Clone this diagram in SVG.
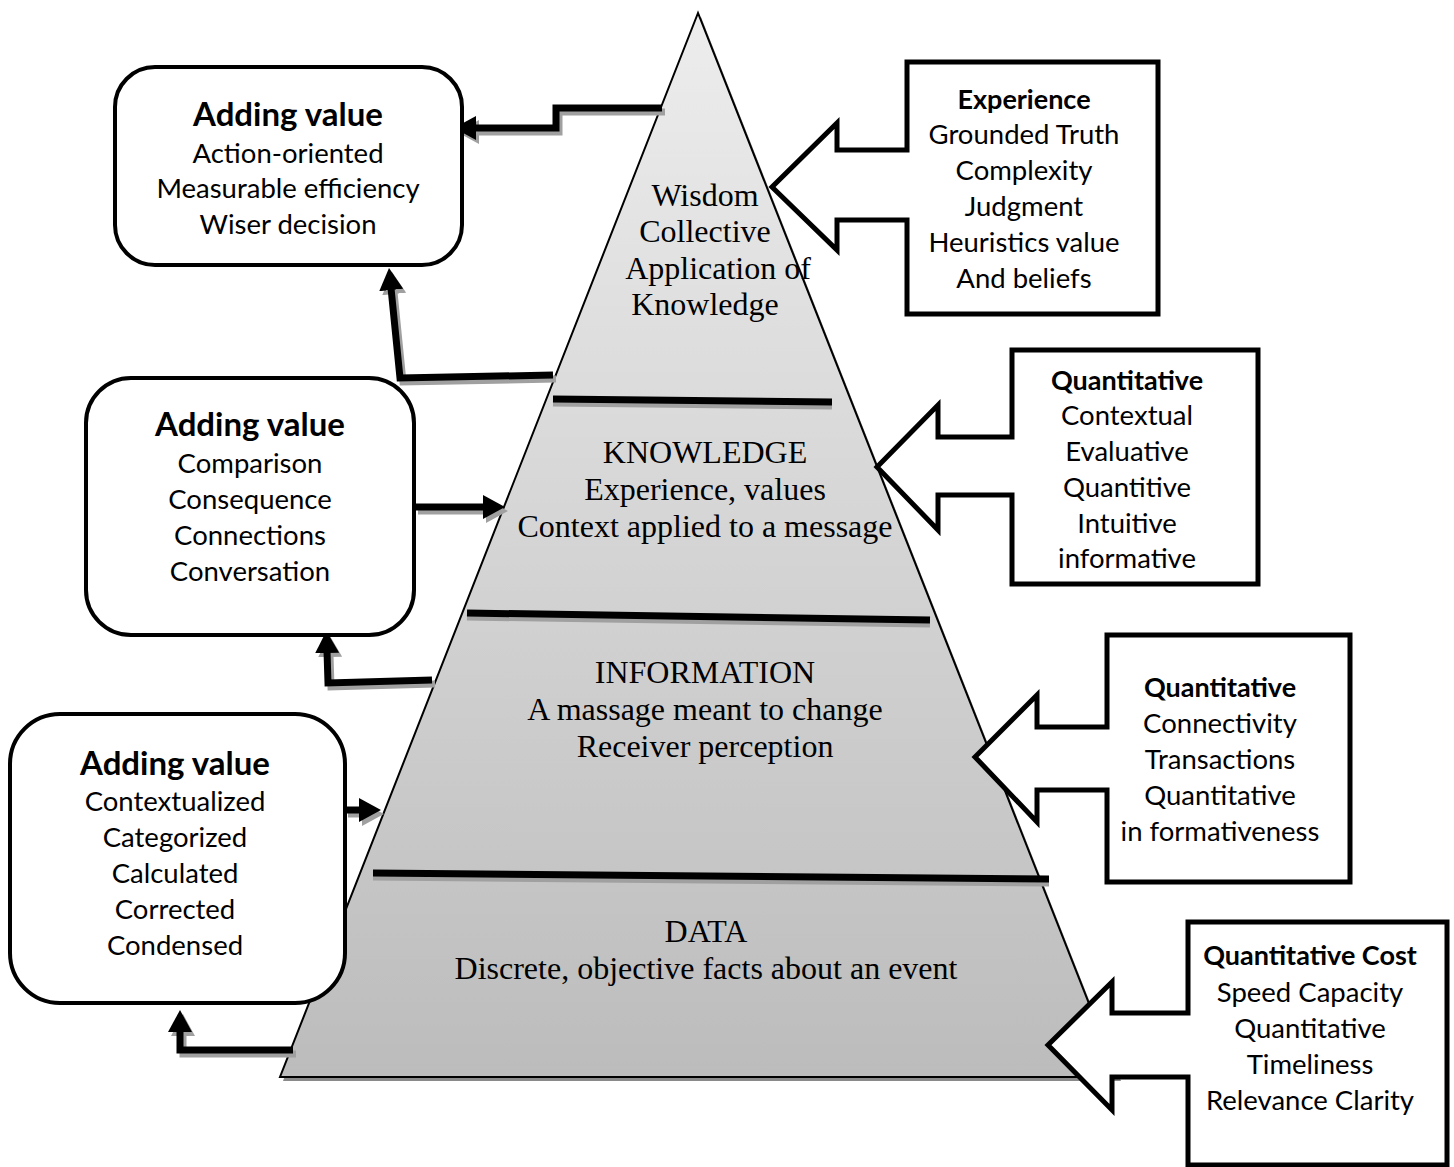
<svg xmlns="http://www.w3.org/2000/svg" width="1454" height="1167" viewBox="0 0 1454 1167">
<defs>
<linearGradient id="pg" x1="0" y1="13" x2="0" y2="1077" gradientUnits="userSpaceOnUse">
<stop offset="0" stop-color="#ededed"/>
<stop offset="1" stop-color="#bcbcbc"/>
</linearGradient>
<marker id="ah" markerUnits="userSpaceOnUse" viewBox="0 0 22 24" markerWidth="22" markerHeight="24" refX="2" refY="12" orient="auto">
<path d="M0,0 L22,12 L0,24 Z" fill="#000"/>
</marker>
<marker id="ahs" markerUnits="userSpaceOnUse" viewBox="0 0 22 24" markerWidth="22" markerHeight="24" refX="2" refY="12" orient="auto">
<path d="M0,0 L22,12 L0,24 Z" fill="#a0a0a0"/>
</marker>
<style>
.ln{fill:none;stroke:#000;stroke-width:7;stroke-linejoin:miter}
.sh{fill:none;stroke:#a0a0a0;stroke-width:7;stroke-linejoin:miter}
.box{fill:#fff;stroke:#000;stroke-width:4}
.call{fill:#fff;stroke:#000;stroke-width:5;stroke-linejoin:miter}
.serif{font-family:"Liberation Serif","Times New Roman",serif;font-size:32px;fill:#000;text-anchor:middle}
.sans{font-family:Lato,"Liberation Sans",sans-serif;font-size:27.5px;fill:#000;text-anchor:middle}
.hd{font-family:Lato,"Liberation Sans",sans-serif;font-size:33px;font-weight:bold;fill:#000;text-anchor:middle}
.rhd{font-family:Lato,"Liberation Sans",sans-serif;font-size:27px;font-weight:bold;fill:#000;text-anchor:middle}
</style>
</defs>
<rect width="1454" height="1167" fill="#fff"/>

<g id="pyramid">
<polygon points="701,17 283,1081 1121,1081" fill="#8a8a8a"/>
<polygon points="698,13 280,1077 1118,1077" fill="url(#pg)" stroke="#000" stroke-width="2"/>
<g id="dividers">
<path class="sh" d="M553,403 L832,406"/>
<path class="ln" d="M553,399 L832,402"/>
<path class="sh" d="M467,617 L930,624"/>
<path class="ln" d="M467,613 L930,620"/>
<path class="sh" d="M373,877 L1049,883"/>
<path class="ln" d="M373,873 L1049,879"/>
</g>
<g id="wisdom">
<text class="serif" x="705" y="206">Wisdom</text>
<text class="serif" x="705" y="242">Collective</text>
<text class="serif" x="718" y="279">Application of</text>
<text class="serif" x="705" y="315">Knowledge</text>
</g>
<g id="knowledge">
<text class="serif" x="705" y="463">KNOWLEDGE</text>
<text class="serif" x="705" y="500">Experience, values</text>
<text class="serif" x="705" y="537">Context applied to a message</text>
</g>
<g id="information">
<text class="serif" x="705" y="683">INFORMATION</text>
<text class="serif" x="705" y="720">A massage meant to change</text>
<text class="serif" x="705" y="757">Receiver perception</text>
</g>
<g id="data">
<text class="serif" x="706" y="942">DATA</text>
<text class="serif" x="706" y="979">Discrete, objective facts about an event</text>
</g>
</g>

<g id="connectors">
<path class="sh" d="M665,112 H559 V132 H477" marker-end="url(#ahs)"/>
<path class="ln" d="M662,108 H556 V128 H474" marker-end="url(#ah)"/>
<path class="sh" d="M556,379 L403,382 L394,292" marker-end="url(#ahs)"/>
<path class="ln" d="M553,375 L400,378 L391,288" marker-end="url(#ah)"/>
<path class="sh" d="M418,511 H488" marker-end="url(#ahs)"/>
<path class="ln" d="M415,507 H485" marker-end="url(#ah)"/>
<path class="sh" d="M435,684 L331,687 L330,655" marker-end="url(#ahs)"/>
<path class="ln" d="M432,680 L328,683 L327,651" marker-end="url(#ah)"/>
<path class="sh" d="M348,814 H364" marker-end="url(#ahs)"/>
<path class="ln" d="M345,810 H361" marker-end="url(#ah)"/>
<path class="sh" d="M296,1054 H183 V1034" marker-end="url(#ahs)"/>
<path class="ln" d="M293,1050 H180 V1030" marker-end="url(#ah)"/>
</g>

<g id="value-top">
<rect class="box" x="115" y="67" width="347" height="198" rx="40"/>
<text class="hd" x="288" y="126">Adding value</text>
<text class="sans" x="288" y="163">Action-oriented</text>
<text class="sans" x="288" y="198">Measurable efficiency</text>
<text class="sans" x="288" y="234">Wiser decision</text>
</g>
<g id="value-mid">
<rect class="box" x="86" y="378" width="328" height="257" rx="45"/>
<text class="hd" x="250" y="436">Adding value</text>
<text class="sans" x="250" y="473">Comparison</text>
<text class="sans" x="250" y="509">Consequence</text>
<text class="sans" x="250" y="545">Connections</text>
<text class="sans" x="250" y="581">Conversation</text>
</g>
<g id="value-bottom">
<rect class="box" x="10" y="714" width="335" height="289" rx="50"/>
<text class="hd" x="175" y="775">Adding value</text>
<text class="sans" x="175" y="811">Contextualized</text>
<text class="sans" x="175" y="847">Categorized</text>
<text class="sans" x="175" y="883">Calculated</text>
<text class="sans" x="175" y="919">Corrected</text>
<text class="sans" x="175" y="955">Condensed</text>
</g>

<g id="callout-experience">
<path class="call" d="M907,62 H1158 V314 H907 V220 H837 V250 L772,187 L837,123 V150 H907 Z"/>
<text class="rhd" x="1024" y="109">Experience</text>
<text class="sans" x="1024" y="144">Grounded Truth</text>
<text class="sans" x="1024" y="180">Complexity</text>
<text class="sans" x="1024" y="216">Judgment</text>
<text class="sans" x="1024" y="252">Heuristics value</text>
<text class="sans" x="1024" y="288">And beliefs</text>
</g>
<g id="callout-knowledge">
<path class="call" d="M1012,350 H1258 V584 H1012 V495 H938 V530 L877,467 L938,405 V437 H1012 Z"/>
<text class="rhd" x="1127" y="390">Quantitative</text>
<text class="sans" x="1127" y="425">Contextual</text>
<text class="sans" x="1127" y="461">Evaluative</text>
<text class="sans" x="1127" y="497">Quantitive</text>
<text class="sans" x="1127" y="533">Intuitive</text>
<text class="sans" x="1127" y="568">informative</text>
</g>
<g id="callout-information">
<path class="call" d="M1107,635 H1350 V882 H1107 V790 H1037 V822 L975,757 L1037,695 V727 H1107 Z"/>
<text class="rhd" x="1220" y="697">Quantitative</text>
<text class="sans" x="1220" y="733">Connectivity</text>
<text class="sans" x="1220" y="769">Transactions</text>
<text class="sans" x="1220" y="805">Quantitative</text>
<text class="sans" x="1220" y="841">in formativeness</text>
</g>
<g id="callout-data">
<path class="call" d="M1188,922 H1447 V1165 H1188 V1077 H1112 V1110 L1048,1045 L1112,982 V1013 H1188 Z"/>
<text class="rhd" x="1310" y="965">Quantitative Cost</text>
<text class="sans" x="1310" y="1002">Speed Capacity</text>
<text class="sans" x="1310" y="1038">Quantitative</text>
<text class="sans" x="1310" y="1074">Timeliness</text>
<text class="sans" x="1310" y="1110">Relevance Clarity</text>
</g>
</svg>
